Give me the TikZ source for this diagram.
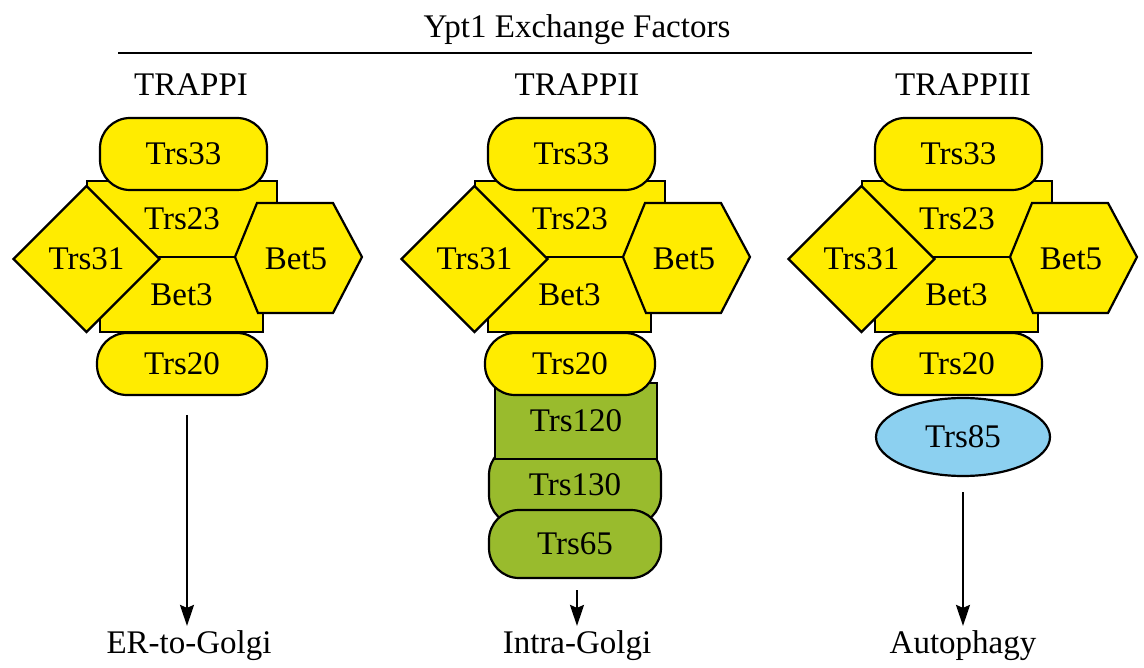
\documentclass[tikz,border=0pt]{standalone}
\usepackage{fontspec}
\setmainfont{Liberation Serif}
\usetikzlibrary{shapes.geometric,arrows.meta}
\definecolor{trappyellow}{RGB}{255,236,0}
\definecolor{trappgreen}{RGB}{153,187,45}
\definecolor{trappblue}{RGB}{140,208,240}

\begin{document}
\begin{tikzpicture}[x=1pt,y=-1pt,
    txt/.style={font=\fontsize{33pt}{36pt}\selectfont},
    part/.style={txt, draw, line width=2.2pt, fill=trappyellow, inner sep=0pt},
    pill/.style={part, rounded corners=30pt},
    hexpart/.style={draw, line width=2.2pt, fill=trappyellow},
    flow/.style={line width=2pt, -{Stealth[length=21pt,width=14pt,inset=3pt]}}]
    \useasboundingbox (0,0) rectangle (1144,668);

    \node[txt, anchor=base] (title) at (577,38) {Ypt1 Exchange Factors};
    \coordinate (ruleL) at (118,53);
    \coordinate (ruleR) at (1032,53);
    \draw[line width=2.8pt] (ruleL) -- (ruleR);

    % TRAPPI
    \begin{scope}
    \node[txt, anchor=base] (iname) at (191,96) {TRAPPI};
    \node[pill, minimum width=170pt, minimum height=62pt] (i20) at (182,364) {Trs20};
    \node[part, minimum width=190pt, minimum height=76pt] (i23) at (182,219) {Trs23};
    \node[part, minimum width=163pt, minimum height=75pt] (ibet3) at (181.5,294.5) {Bet3};
    \node[pill, minimum width=167pt, minimum height=72pt] (i33) at (183.5,154) {Trs33};
    \node[part, diamond, minimum size=147pt] (i31) at (86.5,259) {Trs31};
    \filldraw[hexpart] (235,257) -- (257,203) -- (333,203) -- (362,257) --
    (333,313) -- (258,313) -- cycle;
    \node[txt] (ibet5) at (296,259) {Bet5};
    \coordinate (iout) at (187,415);
    \node[txt, anchor=base, inner sep=4pt] (iend) at (189,653) {ER-to-Golgi};
    \draw[flow] (iout) -- (iout |- iend.north);
    \end{scope}

    % TRAPPII
    \begin{scope}[xshift=388pt]
    \node[txt, anchor=base] (iiname) at (189,96) {TRAPPII};
    \node[pill, fill=trappgreen, minimum width=172pt, minimum height=80pt] (ii130) at (187,485) {Trs130};
    \node[pill, fill=trappgreen, minimum width=172pt, minimum height=68pt] (ii65) at (187,544) {Trs65};
    \node[part, fill=trappgreen, minimum width=162pt, minimum height=76pt] (ii120) at (188,421) {Trs120};
    \node[pill, minimum width=170pt, minimum height=62pt] (ii20) at (182,364) {Trs20};
    \node[part, minimum width=190pt, minimum height=76pt] (ii23) at (182,219) {Trs23};
    \node[part, minimum width=163pt, minimum height=75pt] (iibet3) at (181.5,294.5) {Bet3};
    \node[pill, minimum width=167pt, minimum height=72pt] (ii33) at (183.5,154) {Trs33};
    \node[part, diamond, minimum size=147pt] (ii31) at (86.5,259) {Trs31};
    \filldraw[hexpart] (235,257) -- (257,203) -- (333,203) -- (362,257) --
    (333,313) -- (258,313) -- cycle;
    \node[txt] (iibet5) at (296,259) {Bet5};
    \coordinate (iiout) at (189,590);
    \node[txt, anchor=base, inner sep=4pt] (iiend) at (189,653) {Intra-Golgi};
    \draw[flow] (iiout) -- (iiout |- iiend.north);
    \end{scope}

    % TRAPPIII
    \begin{scope}[xshift=775pt]
    \node[txt, anchor=base] (iiiname) at (188,96) {TRAPPIII};
    \node[part, ellipse, fill=trappblue, minimum width=174pt, minimum height=78pt] (iii85) at (188,437) {Trs85};
    \node[pill, minimum width=170pt, minimum height=62pt] (iii20) at (182,364) {Trs20};
    \node[part, minimum width=190pt, minimum height=76pt] (iii23) at (182,219) {Trs23};
    \node[part, minimum width=163pt, minimum height=75pt] (iiibet3) at (181.5,294.5) {Bet3};
    \node[pill, minimum width=167pt, minimum height=72pt] (iii33) at (183.5,154) {Trs33};
    \node[part, diamond, minimum size=147pt] (iii31) at (86.5,259) {Trs31};
    \filldraw[hexpart] (235,257) -- (257,203) -- (333,203) -- (362,257) --
    (333,313) -- (258,313) -- cycle;
    \node[txt] (iiibet5) at (296,259) {Bet5};
    \coordinate (iiiout) at (188,492);
    \node[txt, anchor=base, inner sep=4pt] (iiiend) at (188,653) {Autophagy};
    \draw[flow] (iiiout) -- (iiiout |- iiiend.north);
    \end{scope}
  \end{tikzpicture}
\end{document}
